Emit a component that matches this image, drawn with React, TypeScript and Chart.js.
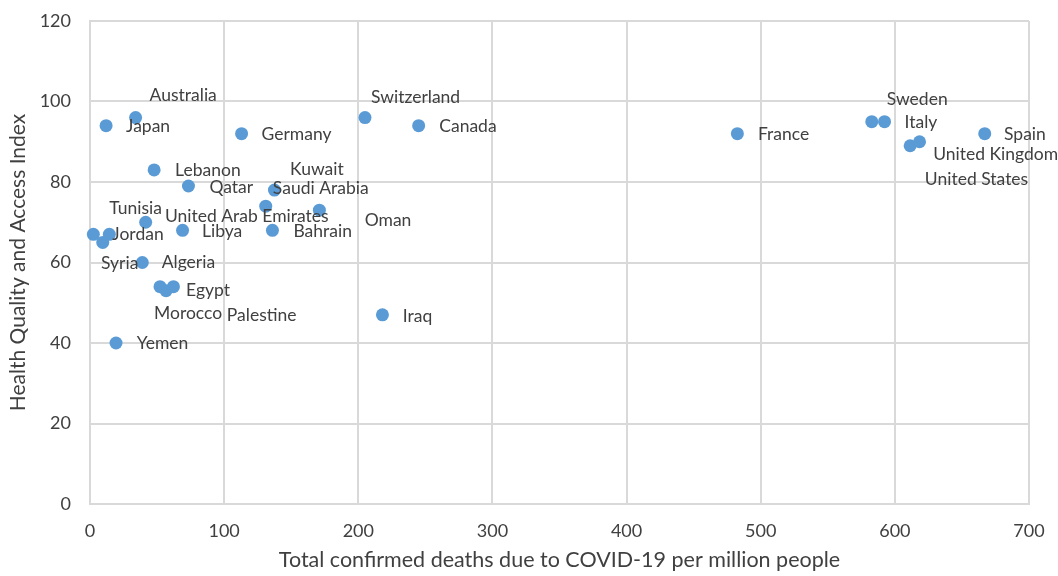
import React, { useEffect, useRef } from "react";
import { Chart, registerables } from "chart.js";

Chart.register(...registerables);

// ---- Data ----
const countries = [
  "Japan", "Australia", "Germany", "Switzerland", "Canada", "France",
  "Sweden", "Italy", "United Kingdom", "United States", "Spain",
  "Lebanon", "Qatar", "Saudi Arabia", "Kuwait", "Oman",
  "United Arab Emirates", "Bahrain", "Libya", "Jordan", "Tunisia", "Syria",
  "Algeria", "Egypt", "Morocco", "Palestine", "Iraq", "Yemen",
];
const deathsPerMillion = [
  12, 34, 113, 205, 245, 482.6,
  582.8, 592.3, 618.4, 611.4, 667,
  47.8, 73.4, 137.5, 131, 171,
  41.5, 136, 69, 2.5, 14.4, 9.5,
  39, 56.7, 52.2, 62.2, 218, 19.4,
];
const haqIndex = [
  94, 96, 92, 96, 94, 92,
  95, 95, 90, 89, 92,
  83, 79, 78, 74, 73,
  70, 68, 68, 67, 67, 65,
  60, 53, 54, 54, 47, 40,
];
const xTicks = { min: 0, max: 700, step: 100 };
const yTicks = { min: 0, max: 120, step: 20 };
const xTitle = "Total confirmed deaths due to COVID-19 per million people";
const yTitle = "Health Quality and Access Index";

// label placement (pixel offsets from each point), layout only
const labelOffsets: [number, number][] = [
  [20, 1], [14, -22], [20, 1], [6, -20], [20.6, 1], [20.6, 1],
  [15, -22], [20, 1], [13.6, 13], [14.7, 33.3], [19.3, 1],
  [21, 0], [21, 1], [-1.6, -1.7], [24.3, -37], [45.3, 10.3],
  [19.3, -5.7], [21, 1], [19.4, 1], [19, 0.3], [0, -26.3], [-1.7, 21],
  [19.4, 0], [20, 0], [-6, 26.6], [53.4, 28.3], [20.4, 1.7], [20.7, 0],
];

const FONT = "Lato";
const TEXT = "#404040";
const GRID = "#D9D9D9";
const DOT = "#5B9BD5";

const labelPlugin = {
  id: "pointLabels",
  afterDatasetsDraw(chart: any) {
    const ctx = chart.ctx;
    const meta = chart.getDatasetMeta(0);
    ctx.save();
    ctx.font = `17.5px ${FONT}`;
    ctx.fillStyle = TEXT;
    ctx.textAlign = "left";
    ctx.textBaseline = "middle";
    meta.data.forEach((el: any, i: number) => {
      const [dx, dy] = labelOffsets[i];
      ctx.fillText(countries[i], el.x + dx, el.y + dy);
    });
    ctx.restore();
  },
};

export default function App() {
  const canvasRef = useRef<HTMLCanvasElement | null>(null);

  useEffect(() => {
    const canvas = canvasRef.current;
    if (!canvas) return;
    const points = deathsPerMillion.map((x, i) => ({ x, y: haqIndex[i] }));
    const chart = new Chart(canvas, {
      type: "scatter",
      data: {
        datasets: [
          {
            label: "HAQ",
            data: points,
            backgroundColor: DOT,
            borderColor: DOT,
            borderWidth: 0,
            pointRadius: 6.5,
            clip: false as any,
          },
        ],
      },
      options: {
        animation: false,
        responsive: false,
        devicePixelRatio: 1,
        layout: { padding: { left: 0, right: 29, top: 21, bottom: 0 } },
        plugins: {
          legend: { display: false },
          tooltip: { enabled: false },
        },
        scales: {
          x: {
            type: "linear",
            min: xTicks.min,
            max: xTicks.max,
            ticks: {
              stepSize: xTicks.step,
              color: TEXT,
              font: { family: FONT, size: 18 },
              padding: 16,
            },
            grid: { color: GRID, lineWidth: 2, drawTicks: false },
            border: { color: GRID, width: 2 },
            title: {
              display: true,
              text: xTitle,
              color: TEXT,
              font: { family: FONT, size: 21.5 },
              padding: { top: 0, bottom: 3 },
            },
            afterFit: (scale: any) => {
              scale.height = 72;
              scale.paddingLeft = 0;
              scale.paddingRight = 0;
            },
          },
          y: {
            type: "linear",
            min: yTicks.min,
            max: yTicks.max,
            ticks: {
              stepSize: yTicks.step,
              color: TEXT,
              font: { family: FONT, size: 18 },
              padding: 19,
            },
            grid: { color: GRID, lineWidth: 2, drawTicks: false },
            border: { color: GRID, width: 2 },
            title: {
              display: true,
              text: yTitle,
              color: TEXT,
              font: { family: FONT, size: 21 },
              padding: { top: 6, bottom: 0 },
            },
            afterFit: (scale: any) => {
              scale.width = 90;
              scale.paddingTop = 0;
              scale.paddingBottom = 0;
            },
          },
        },
      },
      plugins: [labelPlugin],
    });
    return () => chart.destroy();
  }, []);

  return (
    <div style={{ position: "absolute", left: 0, top: 0, width: 1058, height: 576, background: "#fff" }}>
      <canvas ref={canvasRef} width={1058} height={576} style={{ width: 1058, height: 576 }} />
    </div>
  );
}
